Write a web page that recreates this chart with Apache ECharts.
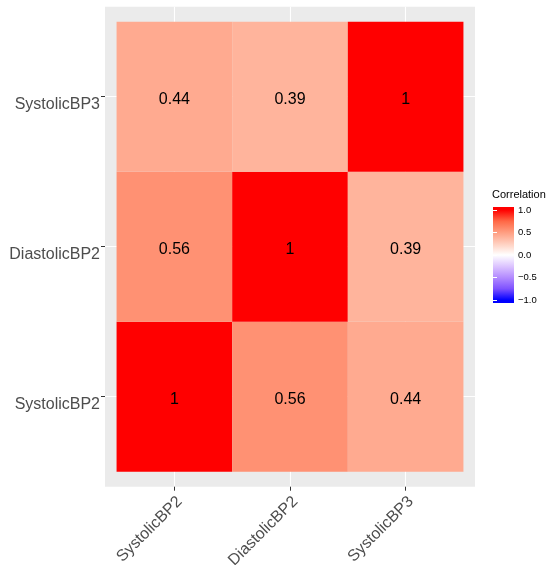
<!DOCTYPE html>
<html>
<head>
<meta charset="utf-8">
<script src="https://cdn.jsdelivr.net/npm/echarts@6/dist/echarts.min.js"></script>
<style>
  html, body { margin: 0; padding: 0; background: #fff; }
  #chart { width: 554px; height: 565px; }
</style>
</head>
<body>
<div id="chart"></div>
<script>
// Correlation matrix of blood-pressure readings
const variables = ['SystolicBP2', 'DiastolicBP2', 'SystolicBP3'];
// rows: y variable (bottom to top), columns: x variable
const corrSystolicBP2 = [1, 0.56, 0.44];
const corrDiastolicBP2 = [0.56, 1, 0.39];
const corrSystolicBP3 = [0.44, 0.39, 1];
const legendBreaks = [-1, -0.5, 0, 0.5, 1];
// diverging blue-white-red palette, stops at -1, -0.75, ..., 1
const paletteValues = [-1, -0.75, -0.5, -0.25, 0, 0.25, 0.5, 0.75, 1];
const paletteColors = ['#0000FF', '#7E52FF', '#B38BFF', '#DCC4FF', '#FFFFFF',
                       '#FFCFBF', '#FF9E81', '#FF6846', '#FF0000'];

const rows = [corrSystolicBP2, corrDiastolicBP2, corrSystolicBP3];
const cells = [];
rows.forEach((row, yi) => {
  row.forEach((v, xi) => cells.push([xi + 1, yi + 1, v]));
});

const FONT = 'Liberation Sans, Arial, sans-serif';
const BAR_MIN = -1.065, BAR_MAX = 1.065;
const barStops = [{ offset: 0, color: paletteColors[paletteColors.length - 1] }];
for (let i = paletteValues.length - 1; i >= 0; i--) {
  barStops.push({ offset: (BAR_MAX - paletteValues[i]) / (BAR_MAX - BAR_MIN), color: paletteColors[i] });
}
barStops.push({ offset: 1, color: paletteColors[0] });

// piecewise-linear interpolation across the palette stops
function colorFor(v) {
  const n = paletteValues.length;
  if (v <= paletteValues[0]) return paletteColors[0];
  if (v >= paletteValues[n - 1]) return paletteColors[n - 1];
  for (let i = 0; i < n - 1; i++) {
    if (v <= paletteValues[i + 1]) {
      const t = (v - paletteValues[i]) / (paletteValues[i + 1] - paletteValues[i]);
      return echarts.color.lerp(t, [paletteColors[i], paletteColors[i + 1]]);
    }
  }
}

const chart = echarts.init(document.getElementById('chart'));
chart.setOption({
  animation: false,
  backgroundColor: '#FFFFFF',
  textStyle: { fontFamily: FONT },
  title: {
    text: 'Correlation', left: 492, top: 189, padding: 0,
    textStyle: { fontSize: 11, fontWeight: 'normal', color: '#000', fontFamily: FONT }
  },
  grid: [
    { left: 105, top: 6.7, width: 370, height: 480, show: true, backgroundColor: '#EBEBEB', borderWidth: 0,
      outerBoundsMode: 'none', containLabel: false },
    { left: 493, top: 207, width: 21, height: 96, outerBoundsMode: 'none', containLabel: false }
  ],
  xAxis: [
    {
      type: 'value', gridIndex: 0, min: 0.4, max: 3.6,
      axisLine: { show: false },
      axisTick: { show: true, length: 4, customValues: [1, 2, 3], lineStyle: { color: '#333333', width: 1 } },
      axisLabel: {
        customValues: [1, 2, 3], rotate: 45, margin: 7, fontSize: 16, color: '#4D4D4D', fontFamily: FONT,
        verticalAlign: 'top', lineHeight: 15,
        formatter: v => variables[Math.round(v) - 1]
      },
      splitLine: { show: true, lineStyle: { color: '#FFFFFF', width: 1.1 } }
    },
    { type: 'value', gridIndex: 1, min: 0, max: 1, show: false }
  ],
  yAxis: [
    {
      type: 'value', gridIndex: 0, min: 0.4, max: 3.6,
      axisLine: { show: false },
      axisTick: { show: true, length: 4, customValues: [1, 2, 3], lineStyle: { color: '#333333', width: 1 } },
      axisLabel: {
        customValues: [1, 2, 3], margin: 5, fontSize: 16, color: '#4D4D4D', fontFamily: FONT,
        verticalAlign: 'top', lineHeight: 15,
        formatter: v => variables[Math.round(v) - 1]
      },
      splitLine: { show: true, lineStyle: { color: '#FFFFFF', width: 1.1 } }
    },
    {
      type: 'value', gridIndex: 1, min: BAR_MIN, max: BAR_MAX, position: 'right', z: 10,
      axisLine: { show: false },
      axisTick: { show: true, inside: true, length: 4, customValues: legendBreaks, lineStyle: { color: '#FFFFFF', width: 1 } },
      axisLabel: {
        customValues: legendBreaks, margin: 4, fontSize: 9.5, color: '#000', fontFamily: FONT,
        formatter: v => (v < 0 ? '\u2212' : '') + Math.abs(v).toFixed(1)
      },
      splitLine: { show: false }
    },
    {
      type: 'value', gridIndex: 1, min: BAR_MIN, max: BAR_MAX, position: 'left', z: 10,
      axisLine: { show: false },
      axisTick: { show: true, inside: true, length: 4, customValues: legendBreaks, lineStyle: { color: '#FFFFFF', width: 1 } },
      axisLabel: { show: false },
      splitLine: { show: false }
    }
  ],
  series: [
    {
      type: 'custom', xAxisIndex: 0, yAxisIndex: 0,
      data: cells,
      renderItem: (params, api) => {
        const x = api.value(0), y = api.value(1), v = api.value(2);
        const tl = api.coord([x - 0.5, y + 0.5]);
        const br = api.coord([x + 0.5, y - 0.5]);
        return {
          type: 'group',
          children: [
            { type: 'rect', shape: { x: tl[0], y: tl[1], width: br[0] - tl[0], height: br[1] - tl[1] },
              style: { fill: colorFor(v) } },
            { type: 'text', x: (tl[0] + br[0]) / 2, y: (tl[1] + br[1]) / 2 + 2.5,
              style: { text: String(v), fill: '#000', fontSize: 16, fontFamily: FONT, align: 'center', verticalAlign: 'middle' } }
          ]
        };
      }
    },
    {
      type: 'custom', xAxisIndex: 1, yAxisIndex: 1,
      data: [[0, BAR_MIN], [1, BAR_MAX]],
      renderItem: (params, api) => {
        if (params.dataIndex !== 0) return null;
        const tl = api.coord([0, BAR_MAX]);
        const br = api.coord([1, BAR_MIN]);
        return {
          type: 'rect',
          shape: { x: tl[0], y: tl[1], width: br[0] - tl[0], height: br[1] - tl[1] },
          style: { fill: new echarts.graphic.LinearGradient(0, 0, 0, 1, barStops) }
        };
      }
    }
  ]
});
</script>
</body>
</html>
